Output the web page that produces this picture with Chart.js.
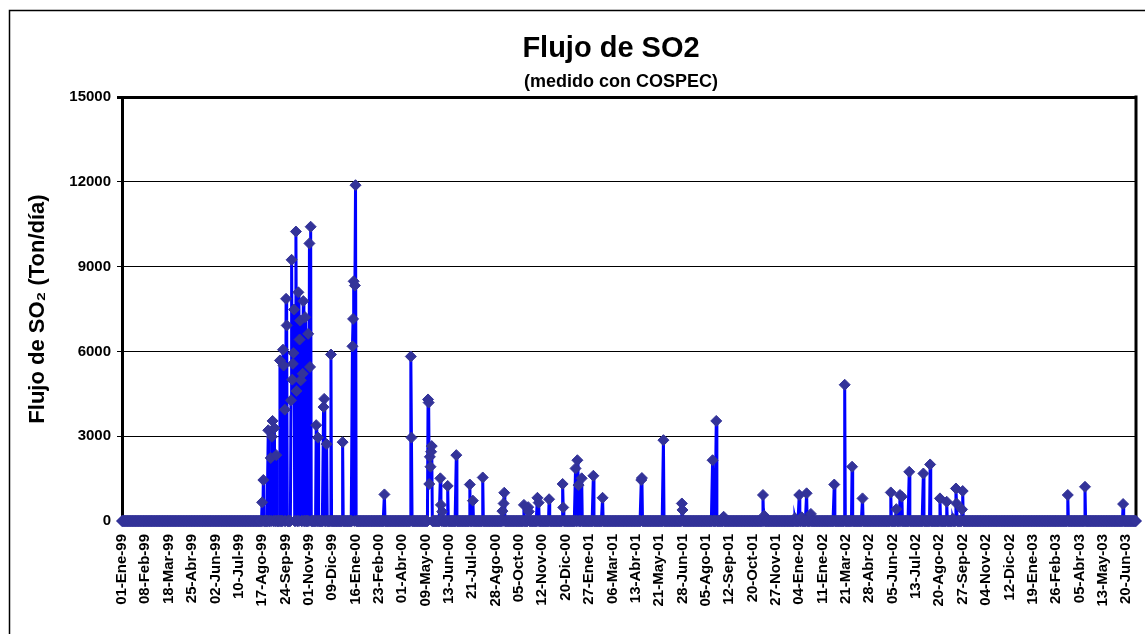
<!DOCTYPE html>
<html>
<head>
<meta charset="utf-8">
<title>Flujo de SO2</title>
<script src="https://cdn.jsdelivr.net/npm/chart.js@4.4.1/dist/chart.umd.min.js"></script>
<style>
  html, body { margin: 0; padding: 0; background: #fff; }
  #so2-chart { display: block; }
</style>
</head>
<body>
<canvas id="so2-chart" width="1145" height="634"></canvas>
<script>
// Textos del gráfico
const chartTitle = 'Flujo de SO2';
const chartSubtitle = '(medido con COSPEC)';
const yAxisTitle = 'Flujo de SO\u2082 (Ton/día)';

// Etiquetas del eje X (una cada 38 días a partir del 01-Ene-99)
const xLabels = [
  '01-Ene-99', '08-Feb-99', '18-Mar-99', '25-Abr-99', '02-Jun-99', '10-Jul-99',
  '17-Ago-99', '24-Sep-99', '01-Nov-99', '09-Dic-99', '16-Ene-00', '23-Feb-00',
  '01-Abr-00', '09-May-00', '13-Jun-00', '21-Jul-00', '28-Ago-00', '05-Oct-00',
  '12-Nov-00', '20-Dic-00', '27-Ene-01', '06-Mar-01', '13-Abr-01', '21-May-01',
  '28-Jun-01', '05-Ago-01', '12-Sep-01', '20-Oct-01', '27-Nov-01', '04-Ene-02',
  '11-Ene-02', '21-Mar-02', '28-Abr-02', '05-Jun-02', '13-Jul-02', '20-Ago-02',
  '27-Sep-02', '04-Nov-02', '12-Dic-02', '19-Ene-03', '26-Feb-03', '05-Abr-03',
  '13-May-03', '20-Jun-03'
];
const labelStep = 38;   // días entre etiquetas
const lastDay = 1650;   // último día de la serie

// Ticks del eje Y
const yTicks = [0, 3000, 6000, 9000, 12000, 15000];

const spikeDays = [
  228, 230, 238, 242, 244, 245, 248, 251, 257, 262, 263, 265, 267, 268, 275, 276,
  277, 278, 279, 280, 283, 284, 287, 289, 290, 291, 294, 295, 298, 303, 305, 306,
  307, 316, 319, 328, 329, 333, 340, 359, 375, 376, 377, 379, 380,
  427, 470, 471, 498, 499, 500, 501, 502, 503, 504, 518, 519, 521, 530, 544, 566,
  571, 587, 619, 621, 622, 654, 661, 662, 676, 678, 695, 717, 718, 738, 741, 743,
  748, 767, 782,
  845, 846, 881, 911, 912, 961, 967, 979, 1043, 1045, 1095, 1102, 1106, 1114, 1121,
  1159, 1176, 1188, 1205,
  1251, 1260, 1266, 1269, 1281, 1304, 1315, 1331, 1342, 1352, 1357, 1358, 1367, 1368,
  1539, 1567, 1629
];
const spikeValues = [
  660, 1450, 3210, 2230, 2980, 3540, 3290, 2330, 5680, 6060, 5500, 3940, 7860, 6920, 4270, 9240,
  5000, 5560, 5940, 7480, 10240, 4600, 8090, 6420, 7090, 4980, 5210, 7780, 7210, 6620, 9820, 5450,
  10410, 3390, 2950, 4030, 4320, 2720, 5890, 2790, 6180, 7150, 8480, 8330, 11880,
  940, 5820, 2950, 4300, 4190, 1310, 2270, 1920, 2450, 2650, 1510, 570, 330, 1240, 2330, 1290,
  720, 1540, 350, 620, 1000, 570, 490, 330, 820, 650, 770, 1310, 480, 1860, 2150, 1270,
  1510, 1600, 820,
  1450, 1520, 2860, 620, 390, 2150, 3540, 150, 920, 190, 100, 920, 130, 980, 250,
  1290, 4820, 1920, 800,
  1010, 420, 920, 860, 1740, 1680, 2000, 800, 680, 80, 1150, 620, 410, 1060,
  920, 1210, 600
];

// Serie diaria: los días sin medición quedan en 0, como en la hoja original
const valueByDay = new Map(spikeDays.map((day, i) => [day, spikeValues[i]]));
const dailyFlux = [];
for (let day = 0; day <= lastDay; day++) {
  dailyFlux.push({ x: day, y: valueByDay.has(day) ? valueByDay.get(day) : 0 });
}

const fontFamily = 'Arial, "Liberation Sans", sans-serif';

// Marco del área de trazado, borde exterior y títulos
const framePlugin = {
  id: 'frame',
  beforeDraw(chart) {
    const { ctx } = chart;
    ctx.save();
    ctx.fillStyle = '#fff';
    ctx.fillRect(0, 0, chart.width, chart.height);
    ctx.restore();
  },
  beforeDatasetsDraw(chart) {
    const { ctx, chartArea } = chart;
    ctx.save();
    ctx.strokeStyle = '#000';
    ctx.lineWidth = 3;
    ctx.beginPath();
    ctx.moveTo(chartArea.right, chartArea.top - 1.5);
    ctx.lineTo(chartArea.right, chartArea.bottom);
    ctx.stroke();
    ctx.restore();
  },
  afterDraw(chart) {
    const { ctx } = chart;
    ctx.save();
    ctx.strokeStyle = '#000';
    ctx.lineWidth = 1.5;
    ctx.strokeRect(9.5, 10.5, 1400, 900);
    ctx.fillStyle = '#000';
    ctx.textAlign = 'center';
    ctx.textBaseline = 'alphabetic';
    ctx.font = 'bold 29px ' + fontFamily;
    ctx.fillText(chartTitle, 611, 57);
    ctx.font = 'bold 18px ' + fontFamily;
    ctx.fillText(chartSubtitle, 621, 87);
    ctx.restore();
  }
};

new Chart(document.getElementById('so2-chart'), {
  type: 'line',
  data: {
    datasets: [
      {
        label: 'Flujo de SO2',
        data: dailyFlux,
        borderColor: '#0000FF',
        borderWidth: 3,
        tension: 0,
        pointStyle: 'rectRot',
        pointRadius: 5.5,
        pointBackgroundColor: '#333399',
        pointBorderColor: '#333399',
        pointBorderWidth: 1,
        clip: false
      }
    ]
  },
  options: {
    responsive: false,
    animation: false,
    devicePixelRatio: 1,
    layout: { padding: { left: 9, top: 97, right: 9, bottom: 0 } },
    plugins: {
      legend: { display: false },
      tooltip: { enabled: false }
    },
    scales: {
      x: {
        type: 'linear',
        min: 0,
        max: lastDay,
        grid: { display: false, drawTicks: false },
        border: { display: false },
        afterBuildTicks: (scale) => {
          scale.ticks = xLabels.map((_, i) => ({ value: i * labelStep }));
        },
        afterFit: (scale) => {
          scale.height = 634 - 521;
          scale.paddingLeft = 0;
          scale.paddingRight = 0;
        },
        ticks: {
          autoSkip: false,
          minRotation: 90,
          maxRotation: 90,
          padding: 13,
          color: '#000',
          font: { family: fontFamily, size: 15, weight: 'bold' },
          callback: (value, index) => xLabels[index]
        }
      },
      y: {
        min: 0,
        max: 15000,
        afterBuildTicks: (scale) => {
          scale.ticks = yTicks.map((v) => ({ value: v }));
        },
        afterFit: (scale) => {
          scale.width = 122 - 9;
        },
        grid: {
          color: '#000',
          lineWidth: (ctx) => (ctx.tick && ctx.tick.value === 15000 ? 3 : 1),
          tickLength: 5
        },
        border: { display: true, color: '#000', width: 3 },
        ticks: {
          padding: 6,
          color: '#000',
          font: { family: fontFamily, size: 15, weight: 'bold' },
          callback: (value) => String(value)
        },
        title: {
          display: true,
          text: yAxisTitle,
          color: '#000',
          padding: { top: 16, bottom: 0 },
          font: { family: fontFamily, size: 22, weight: 'bold' }
        }
      }
    }
  },
  plugins: [framePlugin]
});
</script>
</body>
</html>
